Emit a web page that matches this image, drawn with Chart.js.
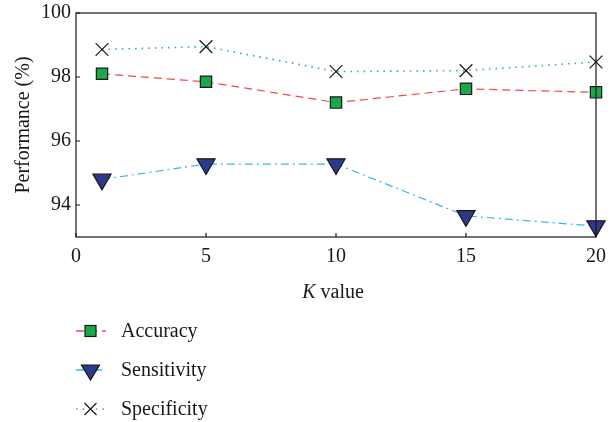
<!DOCTYPE html>
<html>
<head>
<meta charset="utf-8">
<script src="https://cdn.jsdelivr.net/npm/chart.js@4.4.1/dist/chart.umd.min.js"></script>
<style>
  html, body { margin: 0; padding: 0; background: #fff; overflow: hidden; }
  #wrap { position: relative; width: 614px; height: 422px; overflow: hidden; font-family: "Liberation Serif", "DejaVu Serif", serif; color: #1a1718; }
  #chart { position: absolute; left: 0; top: -4px; }
  #xtitle { position: absolute; top: 280px; left: 233px; width: 200px; text-align: center; font-size: 20px; }
  #legend { position: absolute; left: 76px; top: 311px; }
  .item { height: 39px; display: flex; align-items: center; font-size: 20px; }
  .item svg { margin-right: 15px; }
</style>
</head>
<body>
<div id="wrap">
  <canvas id="chart" width="614" height="426"></canvas>
  <div id="xtitle"><i>K</i> value</div>
  <div id="legend"></div>
</div>
<script>
// valores K
const kValues = [1, 5, 10, 15, 20];
const xTicks = [0, 5, 10, 15, 20];
const yTicks = [94, 96, 98, 100];

// series (%)
const accuracy    = [98.1, 97.85, 97.2, 97.63, 97.52];
const sensitivity = [94.8, 95.28, 95.28, 93.66, 93.34];
const specificity = [98.86, 98.95, 98.17, 98.2, 98.47];

const seriesNames = ['Accuracy', 'Sensitivity', 'Specificity'];

const toPts = arr => arr.map((v, i) => ({ x: kValues[i], y: v }));

// marco + marcas hacia adentro
const boxPlugin = {
  id: 'box',
  afterDraw(chart) {
    const { ctx, chartArea: a, scales } = chart;
    ctx.save();
    ctx.strokeStyle = '#1a1718';
    ctx.lineWidth = 1.2;
    ctx.strokeRect(a.left, a.top, a.right - a.left, a.bottom - a.top);
    ctx.beginPath();
    xTicks.forEach(t => {
      const px = scales.x.getPixelForValue(t);
      ctx.moveTo(px, a.bottom); ctx.lineTo(px, a.bottom - 4);
    });
    yTicks.forEach(t => {
      const py = scales.y.getPixelForValue(t);
      ctx.moveTo(a.left, py); ctx.lineTo(a.left + 4, py);
    });
    ctx.stroke();
    ctx.restore();
  }
};

const datasets = [
  {
    label: seriesNames[0], data: toPts(accuracy),
    borderColor: '#ee4b4f', borderWidth: 1.2, borderDash: [8, 5],
    pointStyle: 'rect', pointRadius: 8, pointBackgroundColor: '#1aa84c',
    pointBorderColor: '#1a1718', pointBorderWidth: 1.2
  },
  {
    label: seriesNames[1], data: toPts(sensitivity),
    borderColor: '#34b8e6', borderWidth: 1.2, borderDash: [8, 4, 2, 4],
    pointStyle: 'triangle', pointRotation: 180, pointRadius: 10.5, pointBackgroundColor: '#2d3a8c',
    pointBorderColor: '#1a1718', pointBorderWidth: 1.2
  },
  {
    label: seriesNames[2], data: toPts(specificity),
    borderColor: '#3dba6e', borderWidth: 1.6, borderDash: [1.6, 5],
    pointStyle: 'crossRot', pointRadius: 9, pointBackgroundColor: '#1a1718',
    pointBorderColor: '#1a1718', pointBorderWidth: 1.2
  }
];

const fontTick = { family: '"Liberation Serif", serif', size: 20 };

new Chart(document.getElementById('chart'), {
  type: 'line',
  data: { datasets },
  options: {
    responsive: false,
    animation: false,
    clip: false,
    layout: { padding: { top: 2, right: 17, bottom: 145, left: 12 } },
    plugins: { legend: { display: false }, tooltip: { enabled: false } },
    scales: {
      x: {
        type: 'linear', min: 0, max: 20,
        afterBuildTicks: s => { s.ticks = xTicks.map(v => ({ value: v })); },
        grid: { display: false, drawTicks: false },
        border: { display: false },
        ticks: { font: fontTick, color: '#1a1718', padding: 8 }
      },
      y: {
        min: 93, max: 100,
        afterBuildTicks: s => { s.ticks = yTicks.map(v => ({ value: v })); },
        grid: { display: false, drawTicks: false },
        border: { display: false },
        ticks: { font: fontTick, color: '#1a1718', padding: 5 },
        title: { display: true, text: 'Performance (%)', font: fontTick, color: '#1a1718', padding: 0 }
      }
    }
  },
  plugins: [boxPlugin]
});

// leyenda HTML
const legend = document.getElementById('legend');
datasets.forEach(d => {
  const dash = d.borderDash.join(' ');
  let marker = '';
  if (d.pointStyle === 'rect') {
    marker = `<rect x="9" y="7.5" width="11" height="11" fill="${d.pointBackgroundColor}" stroke="#1a1718" stroke-width="1.2"/>`;
  } else if (d.pointStyle === 'triangle') {
    marker = `<polygon points="5.5,8 23.5,8 14.5,23" fill="${d.pointBackgroundColor}" stroke="#1a1718" stroke-width="1.2"/>`;
  } else {
    marker = `<path d="M8.5,7 L20.5,19 M20.5,7 L8.5,19" stroke="#1a1718" stroke-width="1.2"/>`;
  }
  const div = document.createElement('div');
  div.className = 'item';
  div.innerHTML = `<svg width="30" height="26"><line x1="0" y1="13" x2="30" y2="13" stroke="${d.borderColor}" stroke-width="1.3" stroke-dasharray="${dash}"/>${marker}</svg><span>${d.label}</span>`;
  legend.appendChild(div);
});
</script>
</body>
</html>
